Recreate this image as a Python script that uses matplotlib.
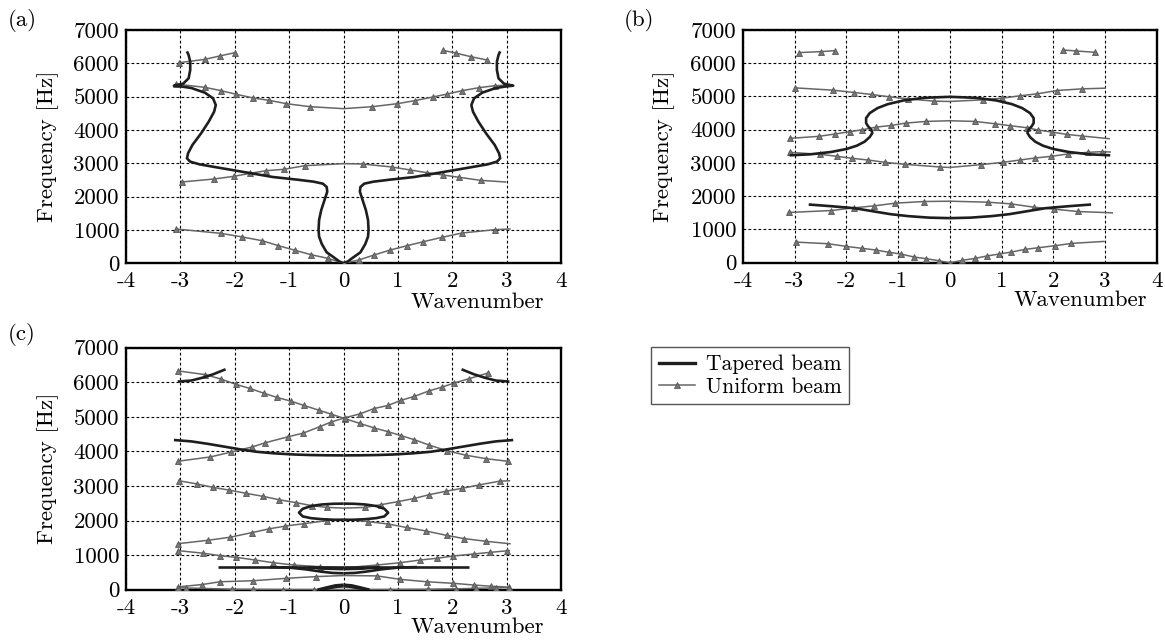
import numpy as np
import matplotlib
matplotlib.use('Agg')
import matplotlib.pyplot as plt
from matplotlib.lines import Line2D

plt.rcParams['font.family'] = ['cmr10', 'DejaVu Serif']
plt.rcParams['axes.unicode_minus'] = False
plt.rcParams['mathtext.fontset'] = 'cm'

DARK = '#1e1e1e'
GRAY = '#666666'
FS = 16.5

# ---- panel (a) : uniform beam (wavenumber, frequency) ----
a_u1_k = [-3.08, -2.26, -1.86, -1.50, -1.20, -0.89, -0.60, -0.29, 0, 0.28, 0.56, 0.86, 1.17, 1.47, 1.81, 2.18, 2.78, 3.06]
a_u1_f = [1030, 900, 790, 680, 530, 390, 260, 150, 0, 100, 250, 400, 530, 650, 780, 910, 1010, 1030]
a_u2_k = [-2.98, -2.38, -2.02, -1.72, -1.42, -1.10, -0.71, 0, 0.35, 0.89, 1.23, 1.53, 1.83, 2.13, 2.52, 2.98]
a_u2_f = [2440, 2530, 2610, 2700, 2780, 2820, 2930, 2990, 2980, 2890, 2800, 2720, 2650, 2580, 2490, 2440]
a_u3_k = [-3.09, -2.55, -2.25, -1.97, -1.66, -1.37, -1.05, -0.62, 0, 0.53, 0.99, 1.31, 1.64, 1.91, 2.18, 2.49, 2.79, 3.05]
a_u3_f = [5380, 5280, 5180, 5070, 4960, 4890, 4790, 4700, 4640, 4700, 4790, 4880, 4990, 5080, 5180, 5270, 5330, 5350]
a_u4l_k = [-3.02, -2.55, -2.28, -2.00]
a_u4l_f = [6020, 6120, 6220, 6320]
a_u4r_k = [1.83, 2.06, 2.34, 2.64]
a_u4r_f = [6390, 6310, 6200, 6100]

# ---- panel (a) : tapered beam, left branch (mirrored for k > 0) ----
a_t_k = [0, -0.08, -0.18, -0.31, -0.40, -0.45, -0.46, -0.45, -0.41, -0.35, -0.30, -0.31, -0.38, -0.55, -0.85,
         -1.30, -1.80, -2.30, -2.65, -2.82, -2.88, -2.86, -2.78, -2.62, -2.48, -2.38, -2.35, -2.40, -2.55, -2.80,
         -3.00, -3.12, -2.95, -2.85, -2.82, -2.82, -2.85, -2.88]
a_t_f = [0, 60, 180, 330, 580, 800, 1000, 1300, 1600, 1900, 2150, 2290, 2390, 2450, 2510,
         2590, 2730, 2870, 2970, 3050, 3150, 3300, 3550, 3900, 4250, 4550, 4750, 4950, 5120, 5260,
         5310, 5330, 5390, 5550, 5800, 6050, 6250, 6360]

# ---- panel (b) : uniform beam ----
b_u1_k = [-2.98, -2.35, -2.00, -1.69, -1.43, -1.17, -0.95, -0.69, -0.46, -0.22, 0, 0.24, 0.49, 0.71, 0.95, 1.19, 1.45, 1.71, 2.03, 2.35, 2.98]
b_u1_f = [620, 570, 490, 430, 380, 310, 260, 170, 120, 60, 0, 70, 130, 200, 260, 320, 400, 450, 510, 580, 640]
b_u2_k = [-3.12, -2.29, -1.86, -1.46, -1.06, -0.51, 0, 0.74, 1.18, 1.62, 2.02, 2.47, 3.14]
b_u2_f = [1510, 1570, 1650, 1710, 1790, 1840, 1850, 1820, 1770, 1670, 1610, 1540, 1500]
b_u3_k = [-3.10, -2.51, -2.18, -1.89, -1.59, -1.26, -0.87, -0.20, 0, 0.60, 1.03, 1.36, 1.65, 1.96, 2.28, 2.67, 2.94, 3.10]
b_u3_f = [3320, 3260, 3200, 3140, 3090, 3020, 2960, 2880, 2865, 2950, 3020, 3090, 3150, 3200, 3270, 3320, 3340, 3330]
b_u4_k = [-3.10, -2.54, -2.23, -1.94, -1.69, -1.42, -1.13, -0.85, -0.46, 0, 0.48, 0.87, 1.17, 1.49, 1.71, 1.97, 2.26, 2.56, 3.08]
b_u4_f = [3740, 3800, 3870, 3940, 4000, 4080, 4130, 4200, 4250, 4270, 4250, 4180, 4120, 4060, 3990, 3930, 3860, 3810, 3730]
b_u5_k = [-3.00, -2.26, -1.85, -1.51, -1.17, -0.81, -0.31, 0, 0.64, 1.01, 1.35, 1.69, 2.07, 2.56, 3.00]
b_u5_f = [5260, 5190, 5120, 5060, 4990, 4930, 4860, 4850, 4900, 4950, 5020, 5080, 5180, 5230, 5250]
b_u6l_k = [-2.92, -2.49, -2.22]
b_u6l_f = [6320, 6350, 6380]
b_u6r_k = [2.18, 2.44, 2.80]
b_u6r_f = [6400, 6370, 6330]

# ---- panel (b) : tapered beam, left halves ----
b_t1_k = [-2.73, -2.30, -1.85, -1.50, -1.15, -0.80, -0.40, 0]
b_t1_f = [1750, 1700, 1640, 1550, 1460, 1400, 1355, 1340]
b_t2_k = [-3.10, -2.70, -2.30, -2.00, -1.80, -1.65, -1.55, -1.50, -1.52, -1.58, -1.62, -1.62, -1.55, -1.40, -1.20, -0.90, -0.50, 0]
b_t2_f = [3230, 3260, 3330, 3420, 3520, 3640, 3780, 3900, 4000, 4100, 4200, 4350, 4500, 4650, 4770, 4880, 4960, 4990]

# ---- panel (c) : uniform beam ----
c_uA_k = [-3.05, -2.54, -2.25, -1.98, -1.72, -1.46, -1.22, -0.96, -0.73, -0.45, -0.23, 0.02, 0.30, 0.56, 0.82, 1.05, 1.30, 1.58, 1.90, 2.25, 2.62, 3.02]
c_uA_f = [6330, 6220, 6090, 5940, 5820, 5680, 5560, 5450, 5330, 5190, 5080, 4950, 4810, 4680, 4570, 4460, 4340, 4180, 4020, 3890, 3790, 3715]
c_uB_k = [-3.05, -2.45, -2.07, -1.68, -1.44, -1.03, -0.74, -0.43, -0.23, 0.02, 0.31, 0.56, 0.82, 1.06, 1.30, 1.57, 1.81, 2.04, 2.30, 2.66]
c_uB_f = [3715, 3840, 3980, 4130, 4250, 4420, 4530, 4720, 4850, 4970, 5090, 5240, 5330, 5480, 5590, 5750, 5860, 5980, 6100, 6270]
c_uC_k = [-3.02, -2.70, -2.40, -2.10, -1.80, -1.48, -1.18, -0.88, -0.58, -0.30, 0, 0.40, 0.69, 1.01, 1.30, 1.58, 1.89, 2.17, 2.49, 2.87, 3.05]
c_uC_f = [3150, 3060, 2960, 2880, 2790, 2700, 2600, 2520, 2430, 2380, 2360, 2380, 2460, 2550, 2640, 2750, 2850, 2930, 3030, 3140, 3150]
c_uD_k = [-3.05, -2.49, -2.08, -1.69, -1.37, -1.07, -0.73, -0.30, 0, 0.45, 0.82, 1.16, 1.51, 1.90, 2.21, 2.62, 3.06]
c_uD_f = [1330, 1430, 1520, 1650, 1760, 1840, 1910, 2000, 2040, 1970, 1900, 1800, 1700, 1570, 1480, 1400, 1330]
c_uE_k = [-3.04, -2.58, -2.27, -1.97, -1.63, -1.29, -0.92, -0.43, 0, 0.61, 1.04, 1.41, 1.71, 2.02, 2.39, 2.70, 3.00, 3.05]
c_uE_f = [1130, 1055, 985, 935, 860, 780, 715, 665, 630, 714, 781, 859, 908, 975, 1033, 1081, 1125, 1130]
c_uF_k = [-3.05, -2.60, -2.27, -1.66, -1.05, -0.50, 0, 0.61, 1.04, 1.53, 2.02, 2.39, 2.72, 3.05]
c_uF_f = [80, 150, 230, 260, 330, 380, 410, 400, 300, 230, 185, 136, 100, 75]
c_uG_k = [-3.05, -2.89, -2.06, -1.66, -1.11, -0.55, 0, 0.85, 1.55, 2.07, 2.44, 2.80, 3.05]
c_uG_f = [60, 50, 15, 10, 5, 2, 0, 5, 12, 25, 40, 55, 60]

# ---- panel (c) : tapered beam, left halves ----
c_t1_k = [-3.05, -2.80, -2.60, -2.40, -2.17]
c_t1_f = [6020, 6050, 6130, 6230, 6375]
c_t2_k = [-3.12, -2.80, -2.50, -2.20, -1.90, -1.60, -1.28, -0.90, -0.60, -0.30, 0]
c_t2_f = [4330, 4290, 4220, 4140, 4060, 3990, 3945, 3910, 3895, 3888, 3885]
c_t3_k = [0, -0.20, -0.40, -0.60, -0.75, -0.82, -0.75, -0.60, -0.40, -0.20, 0]      # closed loop (half)
c_t3_f = [2020, 2025, 2040, 2070, 2120, 2230, 2340, 2420, 2465, 2485, 2490]
c_t4_k = [-2.30, 0]
c_t4_f = [655, 655]
c_t5_k = [-1.35, -1.00, -0.70, -0.40, -0.20, 0]
c_t5_f = [655, 640, 590, 520, 485, 475]
c_t6_k = [-0.65, -0.35, 0]
c_t6_f = [650, 610, 595]
c_t7_k = [-0.48, -0.30, -0.15, 0]
c_t7_f = [0, 70, 125, 145]
c_t8_k = [-0.40, -0.25, -0.12, 0]
c_t8_f = [0, 50, 85, 100]


def uniform(ax, k, f, skip=()):
    n = len(k)
    idx = [i for i in range(n) if i not in skip and i - n not in skip]
    ax.plot(k, f, color=GRAY, lw=1.1, marker='^', ms=5, markevery=idx,
            mfc='#777777', mec='#555555', mew=0.6, zorder=3)


def tapered(ax, k, f):
    k = np.asarray(k, dtype=float)
    for s in (1, -1):
        ax.plot(s * k, f, color=DARK, lw=1.9, solid_capstyle='butt', zorder=4)


def setup(ax, lab_x, lab_y):
    ax.set_xlim(-4, 4)
    ax.set_ylim(0, 7000)
    ax.set_xticks(range(-4, 5))
    ax.set_yticks(range(0, 7001, 1000))
    ax.grid(True, color='k', ls=(0, (2.5, 2)), lw=0.8)
    ax.tick_params(length=0, labelsize=FS)
    ax.tick_params(axis='y', pad=5)
    ax.tick_params(axis='x', pad=6)
    for sp in ax.spines.values():
        sp.set_linewidth(1.7)
    ax.set_ylabel('Frequency [Hz]', fontsize=FS)
    ax.yaxis.set_label_coords(lab_y, 0.5)
    xl = ax.set_xlabel('Wavenumber', fontsize=FS)
    xl.set_ha('right')
    xl.set_va('center')
    ax.xaxis.set_label_coords(lab_x[0], lab_x[1])


fig = plt.figure(figsize=(11.65, 6.44), dpi=100)
ax_a = fig.add_axes([0.1082, 0.5911, 0.3734, 0.3623])
ax_b = fig.add_axes([0.6378, 0.5921, 0.3551, 0.3613])
ax_c = fig.add_axes([0.1082, 0.0843, 0.3734, 0.3758])

setup(ax_a, (0.961, -0.167), -0.155)
setup(ax_b, (0.977, -0.160), -0.165)
setup(ax_c, (0.961, -0.157), -0.155)

# (a)
uniform(ax_a, a_u1_k, a_u1_f, skip=(-1,))
uniform(ax_a, a_u2_k, a_u2_f, skip=(7, -1))
uniform(ax_a, a_u3_k, a_u3_f, skip=(8, -1))
uniform(ax_a, a_u4l_k, a_u4l_f)
uniform(ax_a, a_u4r_k, a_u4r_f)
tapered(ax_a, a_t_k, a_t_f)

# (b)
uniform(ax_b, b_u1_k, b_u1_f, skip=(-1,))
uniform(ax_b, b_u2_k, b_u2_f, skip=(6, -1))
uniform(ax_b, b_u3_k, b_u3_f, skip=(8, -1))
uniform(ax_b, b_u4_k, b_u4_f, skip=(9, -1))
uniform(ax_b, b_u5_k, b_u5_f, skip=(7, -1))
uniform(ax_b, b_u6l_k, b_u6l_f)
uniform(ax_b, b_u6r_k, b_u6r_f)
tapered(ax_b, b_t1_k, b_t1_f)
tapered(ax_b, b_t2_k, b_t2_f)

# (c)
uniform(ax_c, c_uA_k, c_uA_f)
uniform(ax_c, c_uB_k, c_uB_f)
uniform(ax_c, c_uC_k, c_uC_f, skip=(10, -1))
uniform(ax_c, c_uD_k, c_uD_f, skip=(8, -1))
uniform(ax_c, c_uE_k, c_uE_f, skip=(8, -1))
uniform(ax_c, c_uF_k, c_uF_f, skip=(6,))
uniform(ax_c, c_uG_k, c_uG_f, skip=(6,))
for kk, ff in [(c_t1_k, c_t1_f), (c_t2_k, c_t2_f), (c_t3_k, c_t3_f), (c_t4_k, c_t4_f),
               (c_t5_k, c_t5_f), (c_t6_k, c_t6_f), (c_t7_k, c_t7_f), (c_t8_k, c_t8_f)]:
    tapered(ax_c, kk, ff)

fig.text(0.007, 1 - 20 / 644, '(a)', fontsize=FS, va='center', ha='left')
fig.text(0.535, 1 - 20 / 644, '(b)', fontsize=FS, va='center', ha='left')
fig.text(0.007, 1 - 334 / 644, '(c)', fontsize=FS, va='center', ha='left')

handles = [Line2D([], [], color=DARK, lw=2.4),
           Line2D([], [], color=GRAY, lw=1.1, marker='^', ms=5, mfc='#777777', mec='#555555', mew=0.6)]
fig.legend(handles, ['Tapered beam', 'Uniform beam'], loc='upper left',
           bbox_to_anchor=(0.5588, 0.4612), fontsize=15.5, frameon=True, fancybox=False,
           edgecolor='#555555', framealpha=1, borderpad=0.35, handlelength=1.7,
           handletextpad=0.5, labelspacing=0.15, borderaxespad=0)

fig.savefig('out.png', dpi=100)
